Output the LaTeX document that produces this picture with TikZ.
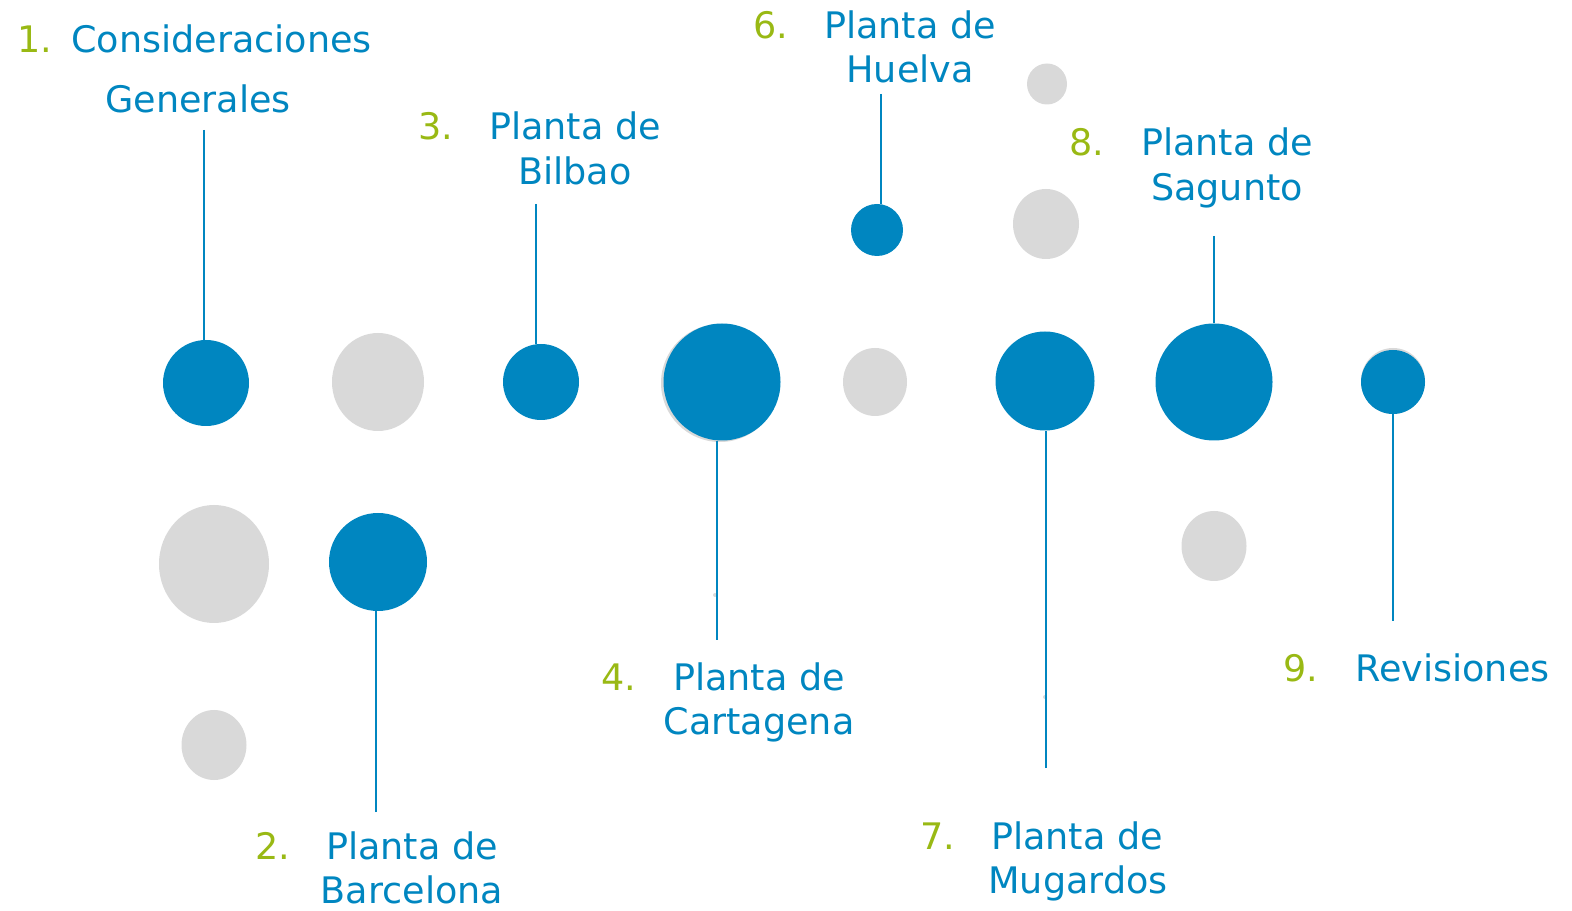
\documentclass[tikz,border=0pt]{standalone}
\usepackage{fontspec}
\setmainfont{DejaVu Sans}
\usetikzlibrary{shapes.geometric}
\definecolor{cblue}{RGB}{0,134,192}
\definecolor{cgreen}{RGB}{153,185,20}
\definecolor{cgray}{RGB}{217,217,217}
\tikzset{
  bdot/.style={circle, fill=cblue, inner sep=0pt, minimum size=#1*0.02cm},
  gdot/.style args={#1/#2}{ellipse, fill=cgray, inner sep=0pt, minimum width=#1*0.02cm, minimum height=#2*0.02cm},
  stem/.style={draw=cblue, line width=0.8pt},
  lbl/.style={text=cblue, inner sep=0pt, anchor=base, font=\fontsize{20.8}{25}\selectfont},
  num/.style={text=cgreen, inner sep=0pt, anchor=base west, font=\fontsize{20.8}{25}\selectfont},
}
\begin{document}
\begin{tikzpicture}[x=0.02cm, y=-0.02cm]
\useasboundingbox (0,0) rectangle (1572,911);
% gray circles
\node[gdot=92/98] (g1) at (378,382) {};
\node[gdot=110/118] (g2) at (214,564) {};
\node[gdot=65/70] (g3) at (214,745) {};
\node[gdot=64/68] (g4) at (875,382) {};
\node[gdot=40/41] (g5) at (1047,84) {};
\node[gdot=66/70] (g6) at (1046,224) {};
\node[gdot=65/70] (g7) at (1214,546) {};
\node[gdot=118/118] (g8) at (720,383) {};
\node[gdot=64/66] (g9) at (1393,381) {};
\node[gdot=4/4] (g10) at (715,595) {};
\node[gdot=4/4] (g11) at (1045,697) {};
% blue circles
\node[bdot=86] (b1) at (206,383) {};
\node[bdot=98] (b2) at (378,562) {};
\node[bdot=76] (b3) at (541,382) {};
\node[bdot=117] (b4) at (722,382) {};
\node[bdot=52] (b6) at (877,230) {};
\node[bdot=99] (b7) at (1045,381) {};
\node[bdot=117] (b8) at (1214,382) {};
\node[bdot=64] (b9) at (1393,382) {};
% stem end points
\coordinate (e1) at (204,130);
\coordinate (e2) at (376,812);
\coordinate (e3) at (536,204);
\coordinate (e4) at (717,640);
\coordinate (e6) at (881,94);
\coordinate (e7) at (1046,768);
\coordinate (e8) at (1214,236);
\coordinate (e9) at (1393,621);
\draw[stem] (e1) -- (e1 |- b1.north);
\draw[stem] (e2) -- (e2 |- b2.south);
\draw[stem] (e3) -- (e3 |- b3.north);
\draw[stem] (e4) -- (e4 |- b4.south);
\draw[stem] (e6) -- (e6 |- b6.north);
\draw[stem] (e7) -- (e7 |- b7.south);
\draw[stem] (e8) -- (e8 |- b8.north);
\draw[stem] (e9) -- (e9 |- b9.south);
% labels
\node[num] (n1) at (17,53) {1.};
\node[lbl, anchor=base west] (t1a) at (71,53) {Consideraciones};
\node[lbl] (t1b) at (198,113) {Generales};
\node[num] (n2) at (255,859) {2.};
\node[lbl] (t2a) at (412,859) {Planta de};
\node[lbl] (t2b) at (412,903) {Barcelona};
\node[num] (n3) at (418,140) {3.};
\node[lbl] (t3a) at (575,140) {Planta de};
\node[lbl] (t3b) at (575,185) {Bilbao};
\node[num] (n4) at (601,690) {4.};
\node[lbl] (t4a) at (759,690) {Planta de};
\node[lbl] (t4b) at (759,734) {Cartagena};
\node[num] (n6) at (753,39) {6.};
\node[lbl] (t6a) at (910,39) {Planta de};
\node[lbl] (t6b) at (910,83) {Huelva};
\node[num] (n7) at (920,849) {7.};
\node[lbl] (t7a) at (1077,849) {Planta de};
\node[lbl] (t7b) at (1078,893) {Mugardos};
\node[num] (n8) at (1069,156) {8.};
\node[lbl] (t8a) at (1227,156) {Planta de};
\node[lbl] (t8b) at (1227,201) {Sagunto};
\node[num] (n9) at (1283,682) {9.};
\node[lbl, anchor=base west] (t9) at (1355,682) {Revisiones};
\end{tikzpicture}
\end{document}
